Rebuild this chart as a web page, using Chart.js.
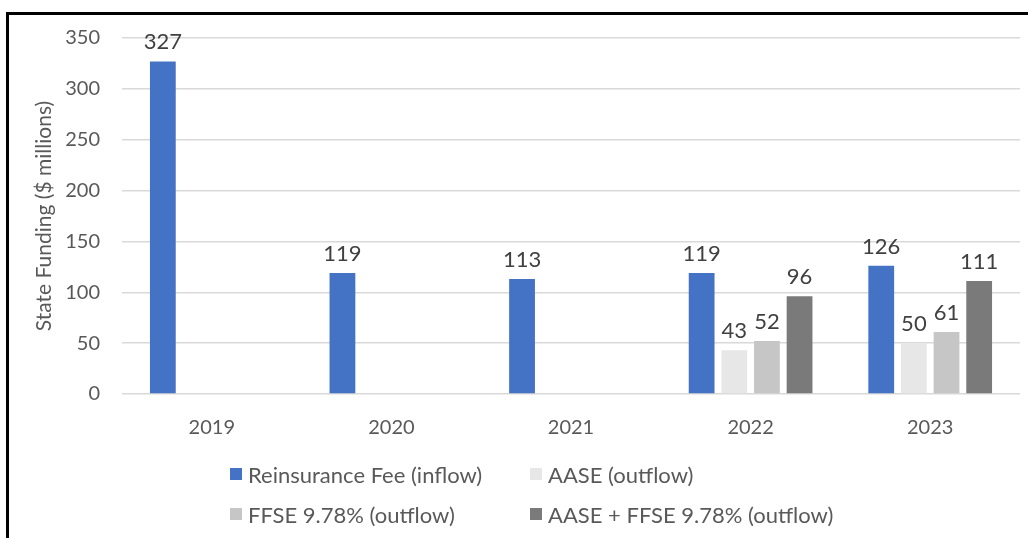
<!DOCTYPE html>
<html>
<head>
<meta charset="utf-8">
<script src="https://cdn.jsdelivr.net/npm/chart.js@4/dist/chart.umd.min.js"></script>
<style>
  html, body { margin: 0; padding: 0; background: #ffffff; }
  #wrap { position: relative; width: 1028px; height: 538px; overflow: hidden; background: #fff; }
  #frame { position: absolute; left: 6px; top: 12px; width: 1100px; height: 600px;
           border-top: 3px solid #000; border-left: 3px solid #000; box-sizing: border-box; pointer-events: none; }
  canvas { position: absolute; left: 0; top: 0; }
  .leg { position: absolute; height: 28px; display: flex; align-items: center;
         font-family: Lato, sans-serif; font-size: 22px; color: #595959; white-space: nowrap; }
  .leg span.box { display: inline-block; width: 12px; height: 12px; margin-right: 6px; }
</style>
</head>
<body>
<div id="wrap">
  <canvas id="c" width="1028" height="538"></canvas>
  <div id="frame"></div>
  <div id="legend"></div>
</div>
<script>
const categories = ['2019', '2020', '2021', '2022', '2023'];
const reinsuranceFee = [327, 119, 113, 119, 126];
const aase = [null, null, null, 43, 50];
const ffse = [null, null, null, 52, 61];
const aasePlusFfse = [null, null, null, 96, 111];
const seriesNames = ['Reinsurance Fee (inflow)', 'AASE (outflow)', 'FFSE 9.78% (outflow)', 'AASE + FFSE 9.78% (outflow)'];
const seriesColors = ['#4472C4', '#E7E7E7', '#C6C6C6', '#7A7A7A'];
const yTicks = [0, 50, 100, 150, 200, 250, 300, 350];

const seriesData = [reinsuranceFee, aase, ffse, aasePlusFfse];
const datasets = seriesData.map((d, i) => ({
  label: seriesNames[i],
  data: d,
  backgroundColor: seriesColors[i],
  borderWidth: 0,
  categoryPercentage: 0.727,
  barPercentage: 0.79
}));

const valueLabels = {
  id: 'valueLabels',
  afterDatasetsDraw(chart) {
    const ctx = chart.ctx;
    ctx.save();
    ctx.font = '22px Lato, sans-serif';
    ctx.fillStyle = '#404040';
    ctx.textAlign = 'center';
    ctx.textBaseline = 'alphabetic';
    chart.data.datasets.forEach((ds, i) => {
      const meta = chart.getDatasetMeta(i);
      meta.data.forEach((bar, j) => {
        const v = ds.data[j];
        if (v === null || v === undefined) return;
        ctx.fillText(String(v), bar.x, bar.y - 12);
      });
    });
    ctx.restore();
  }
};

new Chart(document.getElementById('c'), {
  type: 'bar',
  data: { labels: categories, datasets },
  options: {
    responsive: false,
    animation: false,
    layout: { padding: { left: 0, right: 8, top: 38, bottom: 0 } },
    plugins: { legend: { display: false }, tooltip: { enabled: false } },
    scales: {
      x: {
        grid: { display: false, drawTicks: false },
        border: { display: false },
        ticks: { color: '#595959', font: { family: 'Lato', size: 20, lineHeight: 1.2 }, padding: 22 },
        afterFit(scale) { scale.height = 144; }
      },
      y: {
        min: 0, max: 350,
        afterBuildTicks(scale) { scale.ticks = yTicks.map(v => ({ value: v })); },
        grid: { color: '#D9D9D9', lineWidth: 1.5, drawTicks: false },
        border: { display: false },
        ticks: { color: '#595959', font: { family: 'Lato', size: 20, lineHeight: 1.2 }, padding: 22 },
        title: {
          display: true,
          text: 'State Funding ($ millions)',
          color: '#595959',
          font: { family: 'Lato', size: 21, lineHeight: 1.2 },
          padding: { top: 32, bottom: 0 }
        },
        afterFit(scale) { scale.width = 122; }
      }
    }
  },
  plugins: [valueLabels]
});

// legend laid out as a 2x2 grid like the reference
const legendPos = [[230, 460], [530, 460], [230, 500], [530, 500]];
const legendEl = document.getElementById('legend');
datasets.forEach((ds, i) => {
  const item = document.createElement('div');
  item.className = 'leg';
  item.style.left = legendPos[i][0] + 'px';
  item.style.top = legendPos[i][1] + 'px';
  const box = document.createElement('span');
  box.className = 'box';
  box.style.background = ds.backgroundColor;
  const txt = document.createElement('span');
  txt.textContent = ds.label;
  item.appendChild(box);
  item.appendChild(txt);
  legendEl.appendChild(item);
});
</script>
</body>
</html>
